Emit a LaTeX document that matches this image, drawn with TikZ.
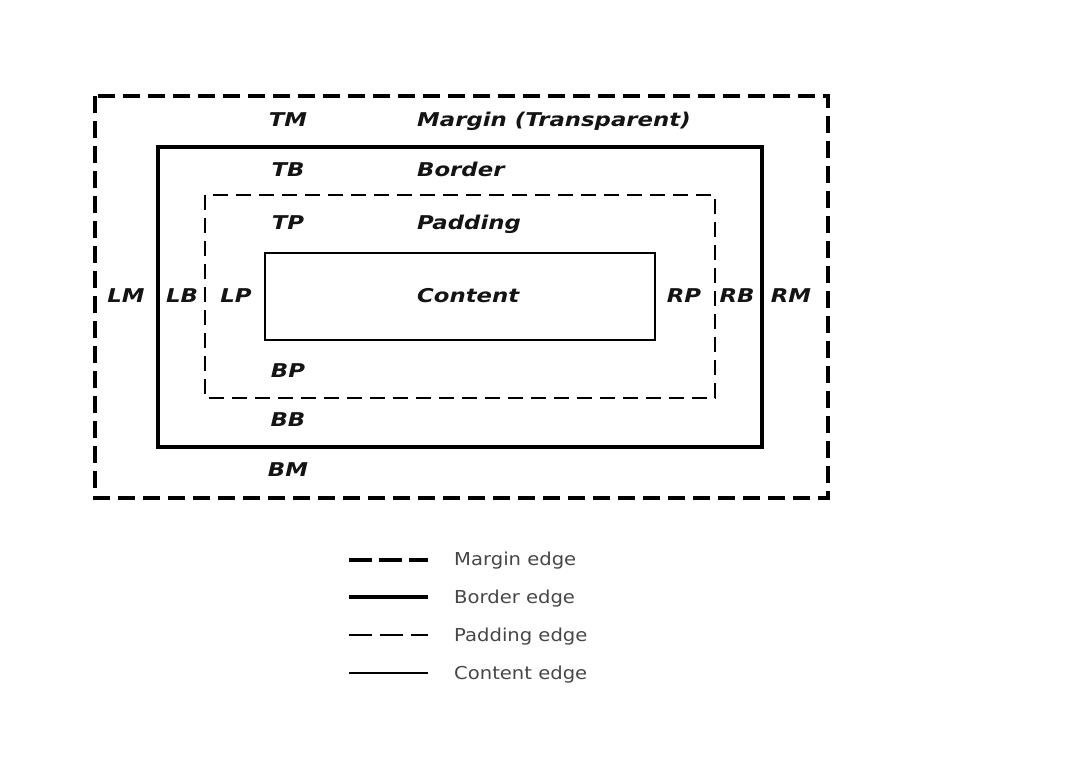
\documentclass[tikz,border=0pt]{standalone}
\usepackage{fontspec}
\setmainfont{DejaVu Sans}
\newfontfamily\lblfont{DejaVu Sans}[FakeStretch=1.2]
\newfontfamily\legfont{DejaVu Sans}[FakeStretch=1.1]
\begin{document}
\begin{tikzpicture}[x=1pt,y=-1pt,
  lbl/.style={font=\lblfont\fontsize{19}{21}\selectfont\bfseries\itshape, text=black!92, inner sep=0pt, text height=13.8pt, text depth=0pt},
  leg/.style={font=\legfont\fontsize{17.8}{20}\selectfont, text=black!72, inner sep=0pt, anchor=west, text height=13pt, text depth=0pt},
  marginedge/.style={line width=4pt, dash pattern=on 17pt off 8pt},
  borderedge/.style={line width=4pt},
  paddingedge/.style={line width=1.3pt, dash pattern=on 15pt off 8pt},
  contentedge/.style={line width=1.3pt}]
\useasboundingbox (0,0) rectangle (1072,756);
\fill[white] (0,0) rectangle (1072,756);
% boxes
\draw[marginedge] (95,96) rectangle (828,498);
\draw[borderedge] (158,147) rectangle (762,447);
\draw[paddingedge] (205,195) rectangle (715,398);
\draw[contentedge] (265,253) rectangle (655,340);
% labels
\node[lbl] (tm) at (288,120) {TM};
\node[lbl] (tb) at (288,170) {TB};
\node[lbl] (tp) at (288,223) {TP};
\node[lbl] (bp) at (288,371) {BP};
\node[lbl] (bb) at (288,420) {BB};
\node[lbl] (bm) at (288,470) {BM};
\node[lbl] (lm) at (126,296) {LM};
\node[lbl] (lb) at (182,296) {LB};
\node[lbl] (lp) at (236,296) {LP};
\node[lbl] (rp) at (684,296) {RP};
\node[lbl] (rb) at (737,296) {RB};
\node[lbl] (rm) at (791,296) {RM};
\node[lbl,anchor=west] (mt) at (417,120) {Margin (Transparent)};
\node[lbl,anchor=west] (bt) at (417,170) {Border};
\node[lbl,anchor=west] (pt) at (417,223) {Padding};
\node[lbl,anchor=west] (ct) at (417,296) {Content};
% legend
\coordinate (l1a) at (349,560); \coordinate (l1b) at (428,560);
\coordinate (l2a) at (349,597); \coordinate (l2b) at (428,597);
\coordinate (l3a) at (349,635); \coordinate (l3b) at (428,635);
\coordinate (l4a) at (349,673); \coordinate (l4b) at (428,673);
\draw[line width=4pt, dash pattern=on 23pt off 7pt] (l1a) -- (l1b);
\draw[borderedge] (l2a) -- (l2b);
\draw[line width=1.3pt, dash pattern=on 23pt off 8pt] (l3a) -- (l3b);
\draw[contentedge] (l4a) -- (l4b);
\node[leg] (t1) at (454,559) {Margin edge};
\node[leg] (t2) at (454,597) {Border edge};
\node[leg] (t3) at (454,635) {Padding edge};
\node[leg] (t4) at (454,673) {Content edge};
\end{tikzpicture}
\end{document}
